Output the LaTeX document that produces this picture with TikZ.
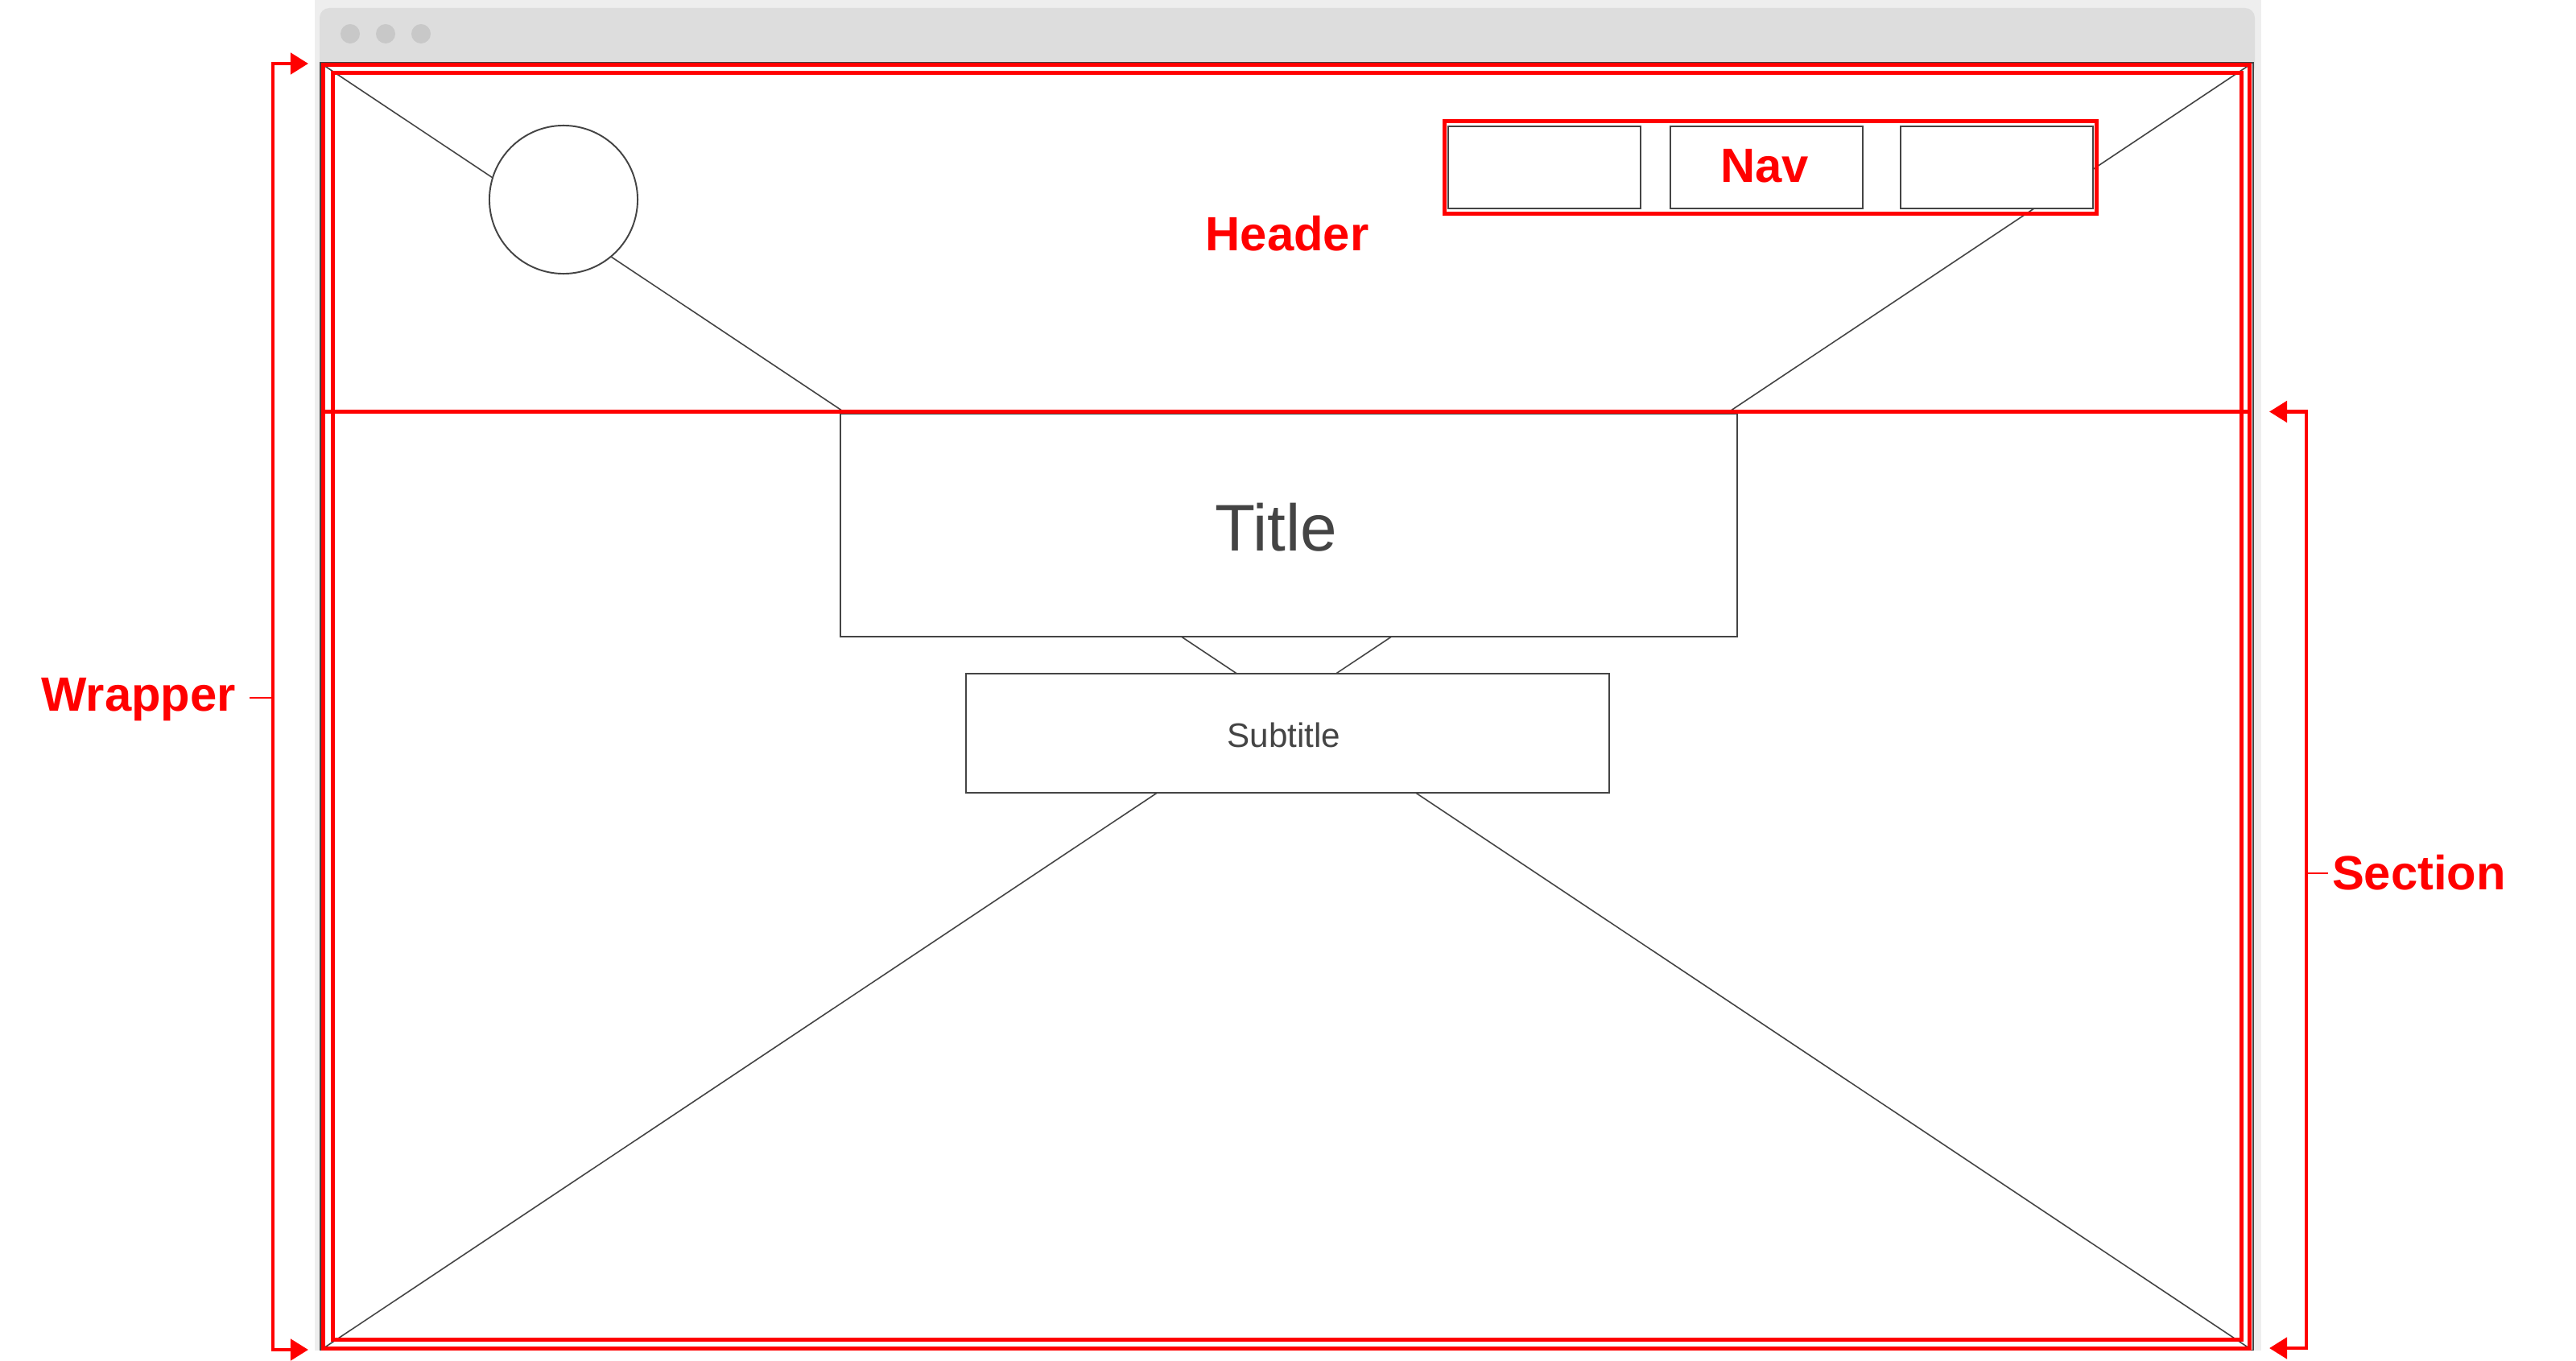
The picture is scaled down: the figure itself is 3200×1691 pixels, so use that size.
\documentclass[tikz,border=0pt]{standalone}
\usepackage{fontspec}
\setmainfont{Liberation Sans}
\usetikzlibrary{arrows.meta}
\definecolor{wfred}{HTML}{FF0000}
\definecolor{wfgray}{HTML}{444444}
\definecolor{chrome}{HTML}{EEEEEE}
\definecolor{chromebar}{HTML}{DDDDDD}
\definecolor{chromedot}{HTML}{C8C8C8}
\begin{document}
\begin{tikzpicture}[x=0.01cm,y=-0.01cm,
  redframe/.style={draw=wfred, line width=1.42pt, rectangle, inner sep=0pt, outer sep=0pt},
  wirebox/.style={draw=wfgray, fill=white, line width=0.55pt, rectangle, inner sep=0pt, outer sep=0pt},
  xline/.style={draw=wfgray, line width=0.45pt},
  bracket/.style={draw=wfred, line width=1.35pt,
    {Triangle[length=0.22cm,width=0.26cm]}-{Triangle[length=0.22cm,width=0.26cm]}},
  tickline/.style={draw=wfred, line width=0.75pt},
  tag/.style={text=wfred, font=\bfseries\fontsize{17.0}{20}\selectfont, inner sep=0pt, outer sep=0pt},
  wiretext/.style={text=wfgray, inner sep=0pt, outer sep=0pt},
]
\useasboundingbox (0,0) rectangle (3200,1691);

% browser window chrome
\fill[chrome] (391,0) rectangle (2809,1678);
\fill[chromebar, rounded corners=0.12cm] (397,10) rectangle (2801,95);
\fill[chromedot] (435,42) circle (0.12cm);
\fill[chromedot] (479,42) circle (0.12cm);
\fill[chromedot] (523,42) circle (0.12cm);

% page area
\node[wirebox, minimum width=23.99cm, minimum height=15.99cm] (page) at (1598.5,877.5) {};

% wrapper outline (drawn later) defines the placeholder cross
\node[rectangle, inner sep=0pt, outer sep=0pt, minimum width=23.92cm, minimum height=15.94cm] (wrapper) at (1598,878) {};
\draw[xline] (wrapper.north west) -- (wrapper.south east);
\draw[xline] (wrapper.north east) -- (wrapper.south west);

% logo
\node[draw=wfgray, fill=white, line width=0.55pt, circle, minimum size=1.84cm, inner sep=0pt, outer sep=0pt] (logo) at (700,248) {};

% navigation items
\node[wirebox, minimum width=2.39cm, minimum height=1.02cm] (nav1) at (1918.5,208) {};
\node[wirebox, minimum width=2.39cm, minimum height=1.02cm] (nav2) at (2194.5,208) {};
\node[wirebox, minimum width=2.39cm, minimum height=1.02cm] (nav3) at (2480.5,208) {};

% title and subtitle blocks
\node[wirebox, minimum width=11.14cm, minimum height=2.77cm] (titlebox) at (1601,652.5) {};
\node[wirebox, minimum width=7.99cm, minimum height=1.48cm] (subbox) at (1599.5,911) {};
\node[wiretext, font=\fontsize{23.3}{26}\selectfont, anchor=base] (titletext) at (1585,684) {Title};
\node[wiretext, font=\fontsize{12}{14}\selectfont, anchor=base] (subtext) at (1595,928) {Subtitle};

% red structure outlines
\node[redframe, minimum width=8.09cm, minimum height=1.14cm] (navframe) at (2199.5,208) {};
\node[redframe, minimum width=23.92cm, minimum height=15.94cm] at (wrapper) {};
\node[redframe, minimum width=23.70cm, minimum height=15.73cm] (inner) at (1599,877.5) {};
\coordinate (headerleft) at (402,511.5);
\coordinate (headerright) at (2794,511.5);
\draw[draw=wfred, line width=1.42pt] (headerleft) -- (headerright);

% labels
\node[tag, anchor=base] (headerlabel) at (1599,311) {Header};
\node[tag, anchor=base] (navlabel) at (2192,226) {Nav};
\node[tag, anchor=base east] (wrapperlabel) at (293,883) {Wrapper};
\node[tag, anchor=base west] (sectionlabel) at (2897,1105) {Section};

% wrapper bracket
\coordinate (wtop) at (383,79);
\coordinate (wbot) at (383,1677);
\coordinate (wmid) at (339,867);
\coordinate (wtick) at (310,867);
\draw[bracket] (wtop) -| (wmid) |- (wbot);
\draw[tickline] (wtick) -- (wmid);

% section bracket
\coordinate (stop) at (2819,511.5);
\coordinate (sbot) at (2819,1675);
\coordinate (smid) at (2865,1085);
\coordinate (stick) at (2892,1085);
\draw[bracket] (stop) -| (smid) |- (sbot);
\draw[tickline] (smid) -- (stick);
\end{tikzpicture}
\end{document}
